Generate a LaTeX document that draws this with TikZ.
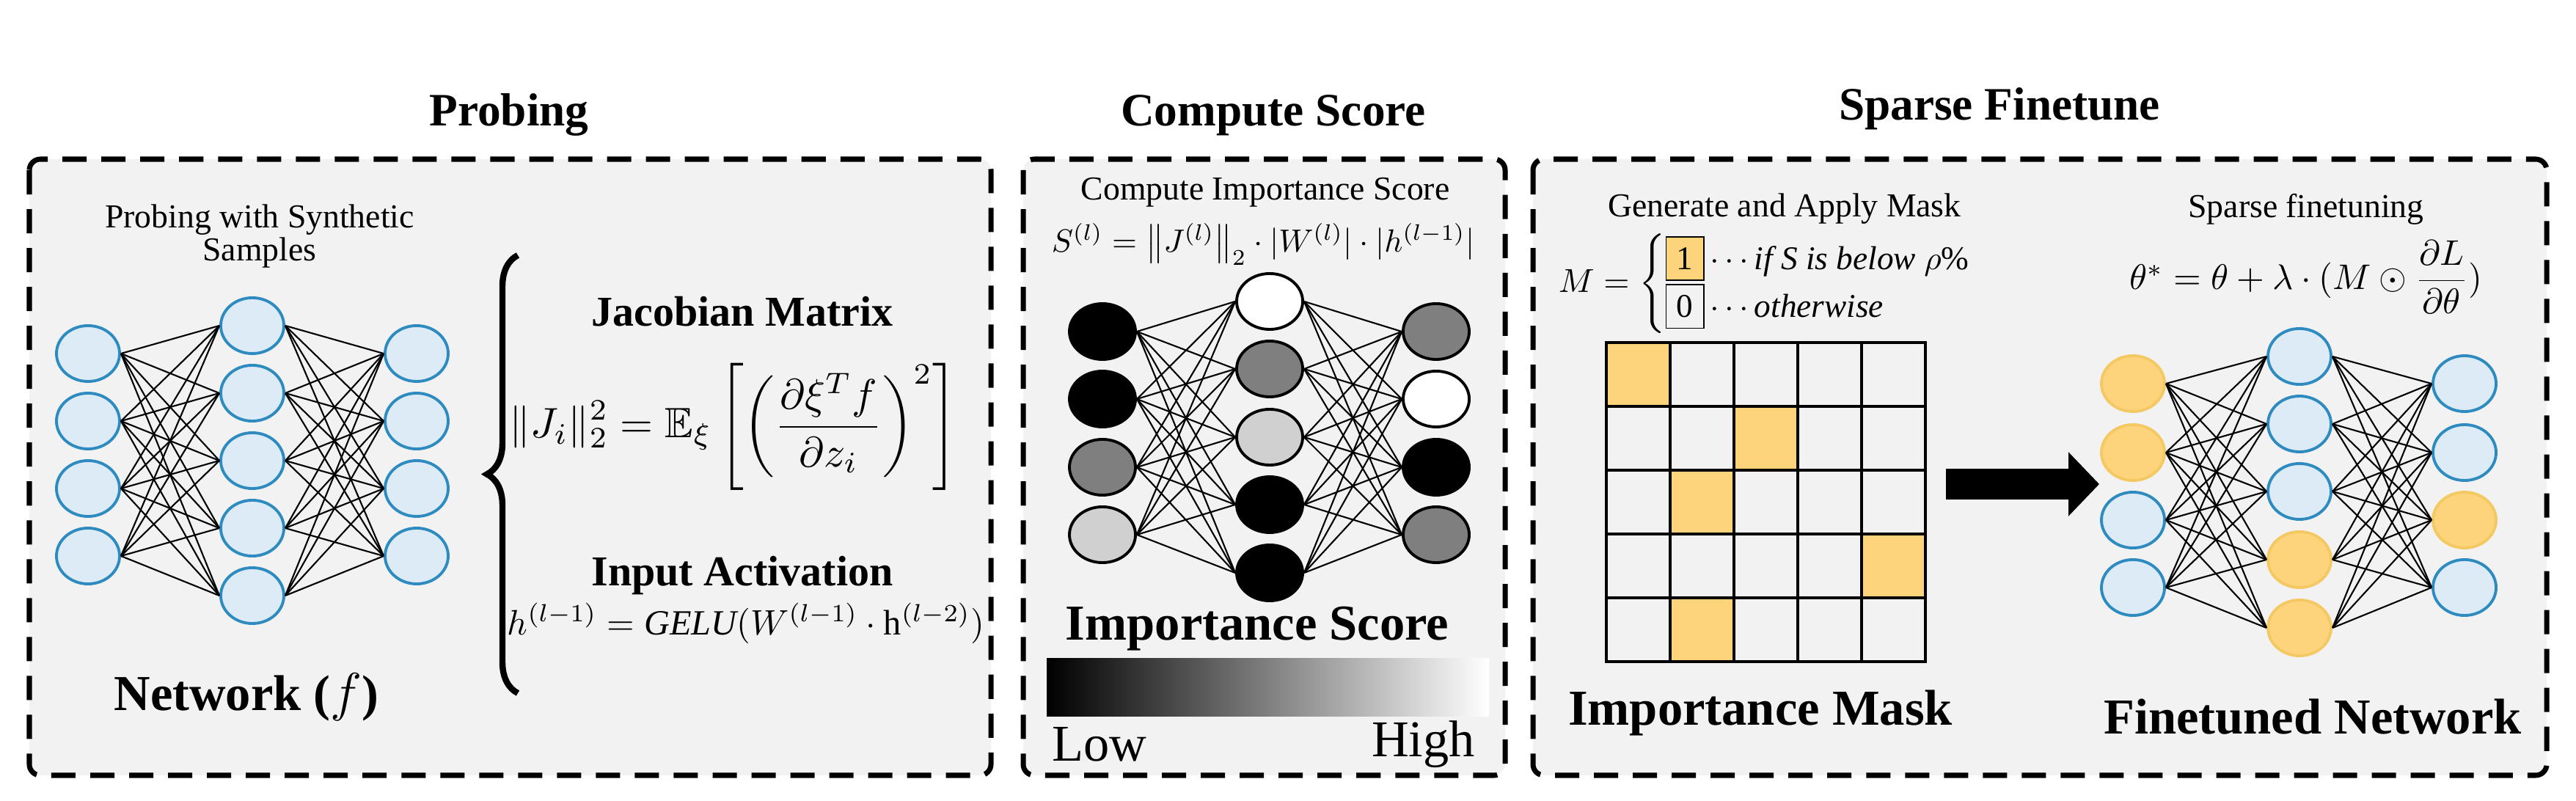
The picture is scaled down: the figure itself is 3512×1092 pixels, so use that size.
\documentclass[tikz,border=0pt]{standalone}
\usepackage{amsmath,amssymb}
\usepackage{fontspec}
\setmainfont{Liberation Serif}
\usetikzlibrary{shapes.geometric,decorations.pathreplacing,arrows.meta}
\definecolor{panelbg}{HTML}{F2F2F2}
\definecolor{nodeblue}{HTML}{DDEBF7}
\definecolor{edgeblue}{HTML}{2E8BC0}
\definecolor{maskyellow}{HTML}{FDD47C}
\definecolor{yedge}{HTML}{F4C863}
\definecolor{midgray}{HTML}{7F7F7F}
\definecolor{lightgray2}{HTML}{D0D0D0}
\begin{document}
\begin{tikzpicture}[x=0.01cm,y=-0.01cm,
  panel/.style={draw=black,line width=2pt,dash pattern=on 0.33cm off 0.2cm,fill=panelbg,rounded corners=0.15cm},
  title/.style={font=\bfseries\fontsize{18}{21}\selectfont},
  big/.style={font=\bfseries\fontsize{19.5}{22}\selectfont},
  sub/.style={font=\bfseries\fontsize{16.5}{19}\selectfont},
  small/.style={font=\fontsize{13}{14}\selectfont,align=center,inner sep=1pt},
  bn/.style={ellipse,draw=edgeblue,fill=nodeblue,line width=1.1pt,minimum width=0.86cm,minimum height=0.76cm,inner sep=0pt},
  yn/.style={ellipse,draw=yedge,fill=maskyellow,line width=1.1pt,minimum width=0.86cm,minimum height=0.76cm,inner sep=0pt},
  gn/.style={ellipse,draw=black,fill=#1,line width=1.1pt,minimum width=0.9cm,minimum height=0.76cm,inner sep=0pt},
  edge/.style={line width=0.6pt,black},
  cell/.style={draw=black,line width=1pt,minimum size=0.87cm,inner sep=0pt}]
\useasboundingbox (0,0) rectangle (3512,1092);
% panels
\path[panel] (40,217) rectangle (1351,1057);
\path[panel] (1395,217) rectangle (2052,1057);
\path[panel] (2090,217) rectangle (3472,1057);
\node[title] (t1) at (694,157) {Probing};
\node[title] (t2) at (1736,157) {Compute Score};
\node[title] (t3) at (2726,148) {Sparse Finetune};
% ---------- panel 1 ----------
\node[small] (p1txt) at (354,322) {Probing with Synthetic\\[-1pt]Samples};
\foreach \i/\y in {1/482,2/574,3/666,4/758}{
  \node[bn] (pa\i) at (120,\y) {};
  \node[bn] (pc\i) at (568,\y) {};}
\foreach \i/\y in {1/444,2/536,3/628,4/720,5/812}
  \node[bn] (pb\i) at (344,\y) {};
\foreach \i in {1,...,4}\foreach \j in {1,...,5}{
  \draw[edge] (pa\i.east) -- (pb\j.west);
  \draw[edge] (pb\j.east) -- (pc\i.west);}
\draw[line width=2.4pt,decorate,decoration={brace,amplitude=0.42cm}] (706,945) -- (706,348);
\node[sub] (jac) at (1012,425) {Jacobian Matrix};
\node (jeq) at (1000,582) {\resizebox{6.1cm}{!}{$\displaystyle \|J_i\|_2^2=\mathbb{E}_\xi\left[\left(\frac{\partial\xi^Tf}{\partial z_i}\right)^{2}\right]$}};
\node[sub] (inact) at (1012,785) {Input Activation};
\node (heq) at (1017,850) {\resizebox{6.5cm}{!}{$h^{(l-1)}=\mathit{GELU}(W^{(l-1)}\cdot\mathrm{h}^{(l-2)})$}};
\node[big] (net) at (336,950) {Network ($f$)};
% ---------- panel 2 ----------
\node[small] (p2txt) at (1725,262) {Compute Importance Score};
\node[inner sep=0pt] (seq) at (1722,333) {\resizebox{5.76cm}{!}{$S^{(l)}=\left\|J^{(l)}\right\|_2\cdot|W^{(l)}|\cdot|h^{(l-1)}|$}};
\foreach \i/\y/\c in {1/452/black,2/544/black,3/637/midgray,4/729/lightgray2}
  \node[gn=\c] (sa\i) at (1503,\y) {};
\foreach \i/\y/\c in {1/452/midgray,2/544/white,3/637/black,4/729/midgray}
  \node[gn=\c] (sc\i) at (1958,\y) {};
\foreach \i/\y/\c in {1/411/white,2/503/midgray,3/596/lightgray2,4/688/black,5/781/black}
  \node[gn=\c] (sb\i) at (1731,\y) {};
\foreach \i in {1,...,4}\foreach \j in {1,...,5}{
  \draw[edge] (sa\i.east) -- (sb\j.west);
  \draw[edge] (sb\j.east) -- (sc\i.west);}
\node[big] (isc) at (1714,857) {Importance Score};
\shade[left color=black,right color=white] (1427,898) rectangle (2030,977);
\node[anchor=west,font=\fontsize{20}{22}\selectfont,inner sep=1pt] (low) at (1430,1015) {Low};
\node[anchor=east,font=\fontsize{20}{22}\selectfont,inner sep=1pt] (high) at (2015,1015) {High};
% ---------- panel 3 ----------
\node[small] (p3txt) at (2433,285) {Generate and Apply Mask};
\node[inner sep=0pt] (meq) at (2430,387) {\resizebox{6.1cm}{!}{$M=\begin{cases}\fcolorbox{black}{maskyellow}{1}\cdots \mathit{if\ S\ is\ below}\ \rho\%\\ \fbox{0}\cdots\mathit{otherwise}\end{cases}$}};
\foreach \r in {0,...,4}\foreach \c in {0,...,4}
  \node[cell] (m\r\c) at ({2233.5+87*\c},{510.5+87*\r}) {};
\foreach \r/\c in {0/0,1/2,2/1,3/4,4/1}
  \node[cell,fill=maskyellow] (y\r\c) at ({2233.5+87*\c},{510.5+87*\r}) {};
\node[big] (imask) at (2400,972) {Importance Mask};
\coordinate (arS) at (2653,660);
\coordinate (arE) at (2862,660);
\draw[line width=0.41cm,-{Triangle[width=0.85cm,length=0.42cm]}] (arS) -- (arE);
\node[small] (p3txt2) at (3144,285) {Sparse finetuning};
\node[inner sep=0pt] (teq) at (3144,378) {\resizebox{4.8cm}{!}{$\theta^*=\theta+\lambda\cdot(M\odot\dfrac{\partial L}{\partial\theta})$}};
\foreach \i/\y/\s in {1/523/yn,2/617/yn,3/709/bn,4/801/bn}
  \node[\s] (fa\i) at (2908,\y) {};
\foreach \i/\y/\s in {1/523/bn,2/617/bn,3/709/yn,4/801/bn}
  \node[\s] (fc\i) at (3360,\y) {};
\foreach \i/\y/\s in {1/486/bn,2/578/bn,3/670/bn,4/763/yn,5/856/yn}
  \node[\s] (fb\i) at (3135,\y) {};
\foreach \i in {1,...,4}\foreach \j in {1,...,5}{
  \draw[edge] (fa\i.east) -- (fb\j.west);
  \draw[edge] (fb\j.east) -- (fc\i.west);}
\node[big] (fnet) at (3153,977) {Finetuned Network};
\end{tikzpicture}
\end{document}
